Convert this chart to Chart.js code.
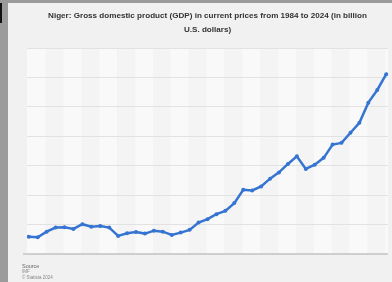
<!DOCTYPE html>
<html>
<head>
<meta charset="utf-8">
<script src="https://cdn.jsdelivr.net/npm/chart.js@4/dist/chart.umd.min.js"></script>
<style>
  html, body { margin: 0; padding: 0; }
  body { width: 392px; height: 282px; background: #9b9b9b; position: relative; overflow: hidden; }
  #edge { position: absolute; left: 0; top: 3px; width: 2px; height: 20px; background: #111; }
  #box { position: absolute; left: 8px; top: 3px; width: 384px; height: 279px; background: #f1f1f1; }
  #source { position: absolute; left: 14px; top: 260px; font-family: "Liberation Sans", Arial, sans-serif; color: #888; line-height: 6px; }
  #source .h { font-size: 5.5px; color: #666; }
  #source .s { font-size: 4.5px; }
</style>
</head>
<body>
<div id="edge"></div>
<div id="box">
  <canvas id="gdpChart" width="384" height="279"></canvas>
  <div id="source">
    <div class="h">Source</div>
    <div class="s">IMF</div>
    <div class="s">© Statista 2024</div>
  </div>
</div>
<script>
// Niger GDP, current prices, billion U.S. dollars
const years = [
  1984, 1985, 1986, 1987, 1988, 1989, 1990, 1991, 1992, 1993,
  1994, 1995, 1996, 1997, 1998, 1999, 2000, 2001, 2002, 2003,
  2004, 2005, 2006, 2007, 2008, 2009, 2010, 2011, 2012, 2013,
  2014, 2015, 2016, 2017, 2018, 2019, 2020, 2021, 2022, 2023, 2024
];
const gdpValues = [
  1.77, 1.71, 2.28, 2.69, 2.72, 2.56, 3.04, 2.79, 2.86, 2.69,
  1.84, 2.12, 2.25, 2.08, 2.38, 2.28, 1.94, 2.18, 2.46, 3.2,
  3.55, 4.06, 4.4, 5.19, 6.55, 6.48, 6.89, 7.68, 8.32, 9.18,
  9.96, 8.67, 9.11, 9.8, 11.16, 11.33, 12.36, 13.38, 15.43, 16.72, 18.33
];
const yTicks = [0, 3, 6, 9, 12, 15, 18, 21];

const titleLines = [
  'Niger: Gross domestic product (GDP) in current prices from 1984 to 2024 (in billion',
  'U.S. dollars)'
];

const LINE_COLOR = '#3674d2';

// alternating column shading, two years per band
const bandsPlugin = {
  id: 'bands',
  beforeDraw(chart) {
    const { ctx, chartArea, scales } = chart;
    const x = scales.x;
    ctx.save();
    for (let i = 0; i < years.length; i += 2) {
      const left = i === 0 ? chartArea.left : x.getPixelForValue(years[i] - 0.1);
      const right = i + 2 < years.length ? x.getPixelForValue(years[i + 2] - 0.1) : chartArea.right;
      ctx.fillStyle = (i / 2) % 2 === 0 ? '#f9f9f9' : '#f4f4f4';
      ctx.fillRect(left, chartArea.top, right - left, chartArea.bottom - chartArea.top);
    }
    ctx.restore();
  },
  beforeDatasetsDraw(chart) {
    const { ctx, chartArea } = chart;
    ctx.save();
    ctx.strokeStyle = '#c4c4c4';
    ctx.lineWidth = 1.5;
    ctx.beginPath();
    ctx.moveTo(chartArea.left - 4, chartArea.bottom);
    ctx.lineTo(chartArea.right, chartArea.bottom);
    ctx.stroke();
    ctx.restore();
  }
};

new Chart(document.getElementById('gdpChart'), {
  type: 'line',
  data: {
    datasets: [{
      data: years.map((y, i) => ({ x: y, y: gdpValues[i] })),
      borderColor: LINE_COLOR,
      backgroundColor: LINE_COLOR,
      borderWidth: 2.5,
      pointRadius: 2,
      pointBorderWidth: 0,
      tension: 0,
    }]
  },
  options: {
    responsive: false,
    animation: false,
    layout: { padding: { left: 19, right: 4, bottom: 28, top: 0 } },
    plugins: {
      legend: { display: false },
      tooltip: { enabled: false },
      title: {
        display: true,
        text: titleLines,
        color: '#333',
        font: { family: "'Liberation Sans', Arial, sans-serif", size: 8.1, weight: 'bold', lineHeight: '14px' },
        padding: { top: 6, bottom: 11 }
      }
    },
    scales: {
      x: {
        type: 'linear',
        min: 1983.8,
        max: 2024.2,
        display: false
      },
      y: {
        min: yTicks[0],
        max: yTicks[yTicks.length - 1],
        afterBuildTicks: (scale) => { scale.ticks = yTicks.map(v => ({ value: v })); },
        ticks: { display: false },
        border: { display: false },
        grid: { color: '#e2e2e2', lineWidth: 1, drawTicks: false }
      }
    }
  },
  plugins: [bandsPlugin]
});
</script>
</body>
</html>
